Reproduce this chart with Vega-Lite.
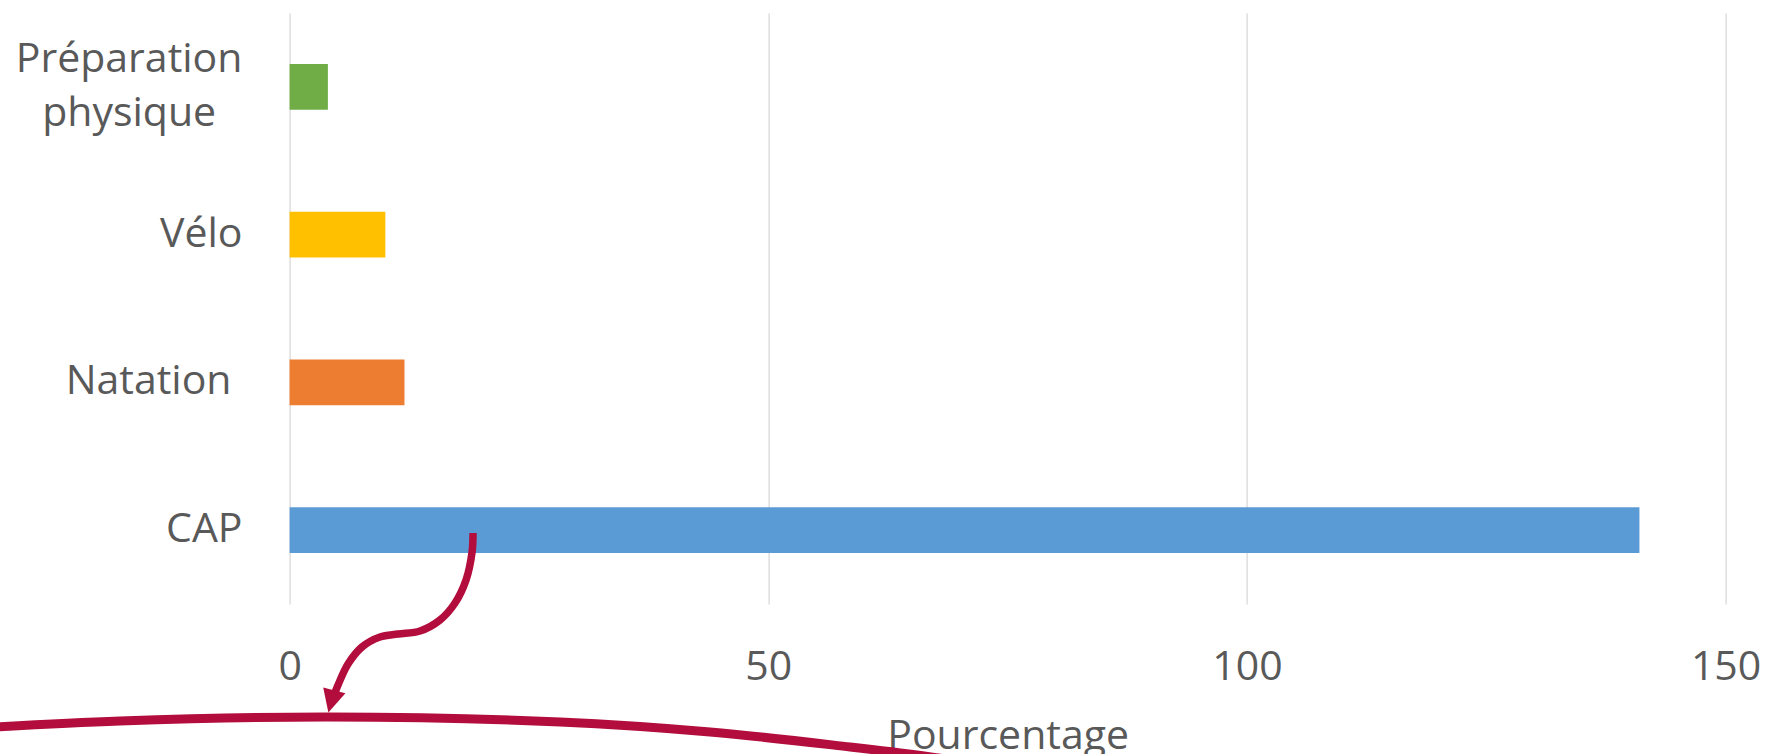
{
  "$schema": "https://vega.github.io/schema/vega-lite/v6.json",
  "width": 1436,
  "height": 591,
  "autosize": {"type": "none"},
  "padding": {"left": 289.6, "top": 13, "right": 41.4, "bottom": 150},
  "background": "white",
  "config": {
    "view": {"stroke": null},
    "font": "Open Sans",
    "axis": {"labelFont": "Open Sans", "titleFont": "Open Sans"}
  },
  "datasets": {
    "bars": [
      {"Activité": "Préparation physique", "Pourcentage": 4},
      {"Activité": "Vélo", "Pourcentage": 10},
      {"Activité": "Natation", "Pourcentage": 12},
      {"Activité": "CAP", "Pourcentage": 141}
    ],
    "annotation": [
      {"path": "arc", "i": 0, "x": -30.78, "y": -123},
      {"path": "arc", "i": 1, "x": -17.72, "y": -117},
      {"path": "arc", "i": 2, "x": 4.12, "y": -113},
      {"path": "arc", "i": 3, "x": 28.26, "y": -118},
      {"path": "arc", "i": 4, "x": 43.92, "y": -128},
      {"path": "arc", "i": 5, "x": 58.55, "y": -143},
      {"path": "arc", "i": 6, "x": 66.28, "y": -152},
      {"path": "arc", "i": 7, "x": 74.21, "y": -163},
      {"path": "arrow", "i": 0, "x": 19.16, "y": 71},
      {"path": "arrow", "i": 1, "x": 19.06, "y": 52},
      {"path": "arrow", "i": 2, "x": 18.43, "y": 24},
      {"path": "arrow", "i": 3, "x": 17.28, "y": 1},
      {"path": "arrow", "i": 4, "x": 15.71, "y": -16},
      {"path": "arrow", "i": 5, "x": 13.62, "y": -27},
      {"path": "arrow", "i": 6, "x": 11.32, "y": -30},
      {"path": "arrow", "i": 7, "x": 9.44, "y": -33},
      {"path": "arrow", "i": 8, "x": 7.56, "y": -43},
      {"path": "arrow", "i": 9, "x": 6.10, "y": -60},
      {"path": "arrow", "i": 10, "x": 5.06, "y": -81},
      {"path": "arrow", "i": 11, "x": 4.53, "y": -94}
    ],
    "head": [
      {"x": 4.36, "y": -97.5}
    ]
  },
  "layer": [
    {
      "data": {"name": "bars"},
      "mark": {"type": "bar"},
      "encoding": {
        "y": {
          "field": "Activité",
          "type": "nominal",
          "sort": ["Préparation physique", "Vélo", "Natation", "CAP"],
          "scale": {"paddingInner": 0.69, "paddingOuter": 0.345},
          "axis": {
            "title": null,
            "labelExpr": "datum.value == 'Préparation physique' ? ['Préparation', 'physique'] : datum.value",
            "labelFontSize": 41,
            "labelColor": "#595959",
            "labelAlign": {"condition": {"test": "datum.value == 'Préparation physique'", "value": "center"}, "value": "right"},
            "labelPadding": {"condition": [
              {"test": "datum.value == 'Préparation physique'", "value": 161},
              {"test": "datum.value == 'Natation'", "value": 58.6}
            ], "value": 47.6},
            "labelOffset": {"condition": {"test": "datum.value == 'Préparation physique'", "value": -27}, "value": 0},
            "labelLineHeight": 54,
            "labelLimit": 0,
            "ticks": false,
            "tickSize": 0,
            "domain": false,
            "grid": false
          }
        },
        "x": {
          "field": "Pourcentage",
          "type": "quantitative",
          "scale": {"domain": [0, 150], "nice": false},
          "axis": {
            "values": [0, 50, 100, 150],
            "title": "Pourcentage",
            "grid": true,
            "gridColor": "#d9d9d9",
            "gridWidth": 1.3,
            "domain": false,
            "ticks": false,
            "tickSize": 0,
            "labelPadding": 43,
            "labelFontSize": 41,
            "labelColor": "#595959",
            "labelFlush": false,
            "titleFontSize": 41,
            "titleFontWeight": "normal",
            "titleColor": "#595959",
            "titlePadding": 29
          }
        },
        "color": {
          "field": "Activité",
          "type": "nominal",
          "scale": {
            "domain": ["Préparation physique", "Vélo", "Natation", "CAP"],
            "range": ["#70AD47", "#FFC000", "#ED7D31", "#5B9BD5"]
          },
          "legend": null
        }
      }
    },
    {
      "data": {"name": "annotation"},
      "mark": {"type": "line", "color": "#B20D3C", "interpolate": "catmull-rom", "strokeCap": "butt"},
      "encoding": {
        "x": {"field": "x", "type": "quantitative", "title": "Pourcentage"},
        "y": {"field": "y", "type": "quantitative", "scale": {"domain": [0, 591], "nice": false, "zero": false}, "axis": null},
        "detail": {"field": "path", "type": "nominal"},
        "order": {"field": "i", "type": "quantitative"},
        "strokeWidth": {
          "field": "path",
          "type": "nominal",
          "scale": {"domain": ["arc", "arrow"], "range": [9, 7.5]},
          "legend": null
        }
      }
    },
    {
      "data": {"name": "head"},
      "mark": {"type": "point", "shape": "M0,1L-1,-1L1,-1Z", "filled": true, "color": "#B20D3C", "opacity": 1, "size": 529, "angle": 15},
      "encoding": {
        "x": {"field": "x", "type": "quantitative", "title": "Pourcentage"},
        "y": {"field": "y", "type": "quantitative", "scale": {"domain": [0, 591], "nice": false, "zero": false}, "axis": null}
      }
    }
  ],
  "resolve": {"scale": {"y": "independent"}}
}
